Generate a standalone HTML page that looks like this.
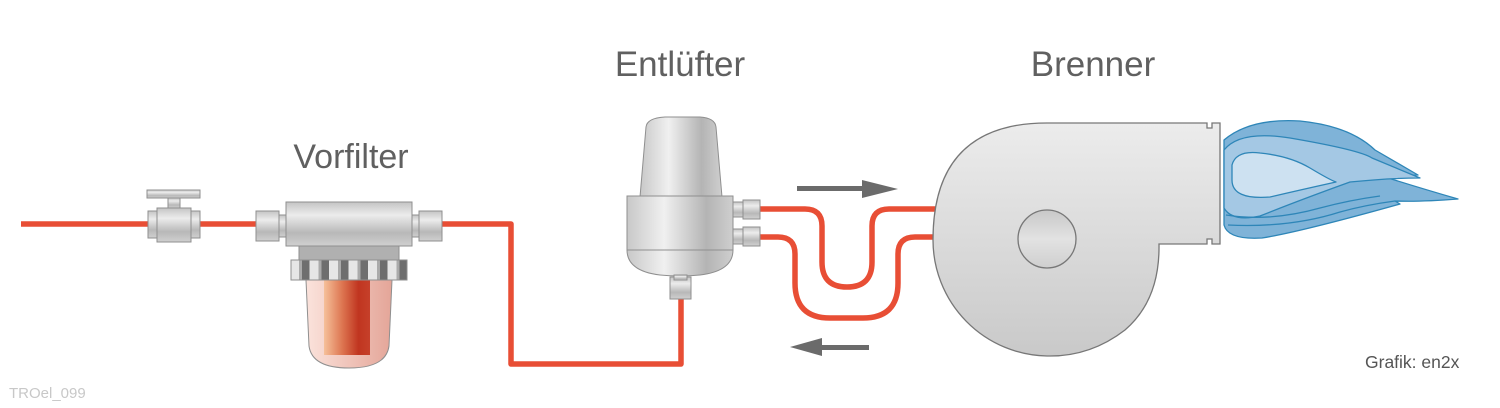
<!DOCTYPE html>
<html><head><meta charset="utf-8"><style>
html,body{margin:0;padding:0;background:#fff;}
svg{display:block;}
text{font-family:"Liberation Sans",Arial,sans-serif;}
</style></head><body>
<svg width="1500" height="408" viewBox="0 0 1500 408" xmlns="http://www.w3.org/2000/svg">
<defs>
<linearGradient id="met" x1="0" y1="0" x2="0" y2="1">
<stop offset="0" stop-color="#c4c4c4"/><stop offset="0.3" stop-color="#ececec"/><stop offset="0.7" stop-color="#b8b8b8"/><stop offset="1" stop-color="#d0d0d0"/></linearGradient>
<linearGradient id="metH" x1="0" y1="0" x2="1" y2="0">
<stop offset="0" stop-color="#c8c8c8"/><stop offset="0.35" stop-color="#f0f0f0"/><stop offset="0.75" stop-color="#b4b4b4"/><stop offset="1" stop-color="#cfcfcf"/></linearGradient>
<pattern id="gearP" x="290" y="0" width="19.5" height="30" patternUnits="userSpaceOnUse">
<rect width="19.5" height="30" fill="#e6e6e6"/><rect x="12" width="7.5" height="30" fill="#6e6e6e"/><rect x="9" width="3" height="30" fill="#aaa"/></pattern>
<linearGradient id="bowl" x1="0" y1="0" x2="1" y2="0">
<stop offset="0" stop-color="#fbe3dc"/><stop offset="1" stop-color="#e4a598"/></linearGradient>
<linearGradient id="core" x1="0" y1="0" x2="1" y2="0">
<stop offset="0" stop-color="#f6c09a"/><stop offset="0.4" stop-color="#dd7550"/><stop offset="0.75" stop-color="#c03520"/><stop offset="1" stop-color="#c6402a"/></linearGradient>
<linearGradient id="burn" x1="0" y1="0" x2="0" y2="1">
<stop offset="0" stop-color="#ececec"/><stop offset="1" stop-color="#c9c9c9"/></linearGradient>
<linearGradient id="hub" x1="0" y1="0" x2="0" y2="1">
<stop offset="0" stop-color="#c8c8c8"/><stop offset="0.5" stop-color="#e2e2e2"/><stop offset="1" stop-color="#cfcfcf"/></linearGradient>
</defs>

<!-- pipes -->
<g fill="none" stroke="#e84e35" stroke-width="5.5" stroke-linejoin="round">
<path d="M21,224 H150"/>
<path d="M198,224 H260"/>
<path d="M440,224 H511 V364 H681 V298"/>
<path d="M758,209 H805 Q822,209 822,226 V262 Q822,287 847,287 Q872,287 872,262 V226 Q872,209 889,209 H936"/>
<path d="M758,237 H778 Q795,237 795,254 V283 Q795,318 830,318 H863 Q898,318 898,283 V254 Q898,237 915,237 H936"/>
</g>

<!-- valve -->
<g stroke="#8f8f8f" stroke-width="1">
<rect x="147" y="190" width="53" height="8" fill="url(#met)"/>
<rect x="168" y="198" width="12" height="10" fill="url(#met)"/>
<rect x="148" y="211" width="52" height="27" fill="url(#met)"/>
<rect x="157" y="208" width="34" height="34" fill="url(#met)"/>
</g>

<!-- filter -->
<g stroke="#8f8f8f" stroke-width="1">
<rect x="256" y="211" width="23" height="30" fill="url(#met)"/>
<rect x="279" y="215" width="8" height="22" fill="url(#met)"/>
<rect x="411" y="215" width="8" height="22" fill="url(#met)"/>
<rect x="419" y="211" width="23" height="30" fill="url(#met)"/>
<rect x="286" y="202" width="126" height="44" fill="url(#met)"/>
<rect x="299" y="246" width="100" height="14" fill="#b0b0b0"/>
<path d="M306,280 H392 L389,346 Q386,368 349,368 Q312,368 309,346 Z" fill="url(#bowl)"/>
<rect x="324" y="280" width="46" height="75" fill="url(#core)" stroke="none"/>
<rect x="291" y="260" width="116" height="20" fill="url(#gearP)"/>
</g>

<!-- entlüfter -->
<g stroke="#8f8f8f" stroke-width="1">
<path d="M640,197 L646,127 Q647,118 665,117 H700 Q715,118 716,127 L722,197 Z" fill="url(#metH)"/>
<rect x="627" y="196" width="106" height="54" fill="url(#metH)"/>
<path d="M627,250 H733 Q733,271 700,275 Q680,277 660,275 Q627,271 627,250 Z" fill="url(#metH)"/>
<rect x="670" y="277" width="21" height="22" fill="url(#met)"/>
<rect x="674" y="275" width="13" height="5" fill="url(#met)"/>
<rect x="733" y="202" width="12" height="15" fill="url(#met)"/>
<rect x="743" y="200" width="17" height="19" fill="url(#met)"/>
<rect x="733" y="229" width="12" height="15" fill="url(#met)"/>
<rect x="743" y="227" width="17" height="19" fill="url(#met)"/>
</g>

<!-- arrows -->
<g fill="#6b6b6b">
<rect x="797" y="186" width="68" height="5"/>
<path d="M862,180 L898,189 L862,198 Z"/>
<rect x="820" y="345" width="49" height="5"/>
<path d="M822,338 L790,347 L822,356 Z"/>
</g>

<!-- flames -->
<g stroke="#2e86b8" stroke-width="1.3" stroke-linejoin="round">
<path d="M1224,140 Q1250,118 1300,121 Q1350,126 1375,150 L1418,175 Q1395,176 1385,177 Q1420,188 1458,199 Q1420,202 1395,201 L1400,204 Q1300,232 1262,238 Q1228,240 1224,225 Z" fill="#7fb3d8"/>
<path d="M1224,150 Q1240,130 1290,138 Q1360,150 1372,158 L1420,178 Q1390,178 1350,182 Q1300,200 1260,216 Q1232,222 1224,208 Z" fill="#a4c8e4"/>
<path d="M1232,165 Q1236,150 1260,153 Q1290,156 1310,168 Q1330,180 1336,182 Q1300,190 1270,197 Q1232,200 1232,180 Z" fill="#cde1f1"/>
<path d="M1226,215 Q1270,222 1320,208 Q1350,200 1380,196" fill="none"/>
<path d="M1228,225 Q1290,228 1340,212 Q1365,205 1395,201" fill="none"/>
</g>

<!-- burner -->
<path d="M1047,123 H1207 V128 H1212 V123 H1220 V244 H1212 V239 H1207 V244 H1159 Q1160,300 1125,330 Q1090,357 1047,356 A116,116 0 0 1 933,240 Q933,123 1047,123 Z" fill="url(#burn)" stroke="#777" stroke-width="1.3"/>
<circle cx="1047" cy="239" r="29" fill="url(#hub)" stroke="#777" stroke-width="1.3"/>

<!-- labels -->
<text x="351" y="168" font-size="34" fill="#606060" text-anchor="middle">Vorfilter</text>
<text x="680" y="76" font-size="35" fill="#606060" text-anchor="middle">Entlüfter</text>
<text x="1093" y="76" font-size="35" fill="#606060" text-anchor="middle">Brenner</text>
<text x="1365" y="368" font-size="17.5" fill="#555">Grafik: en2x</text>
<text x="9" y="398" font-size="15" fill="#c8c8c8">TROel_099</text>
</svg>
</body></html>
